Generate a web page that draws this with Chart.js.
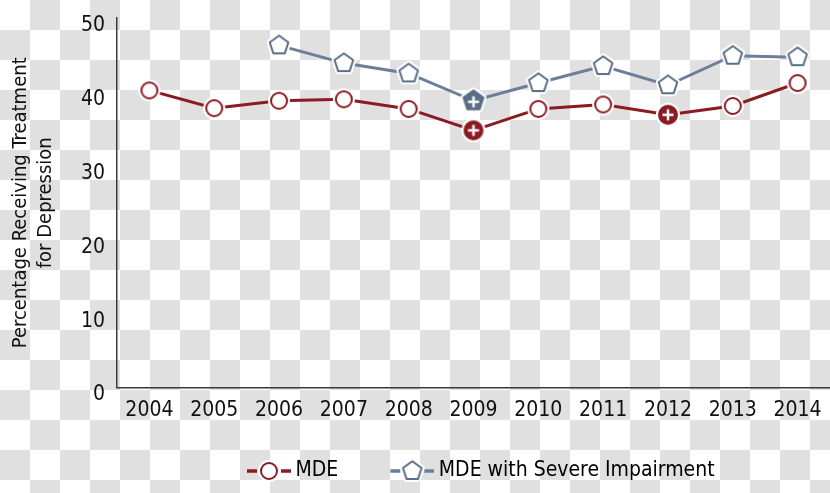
<!DOCTYPE html>
<html>
<head>
<meta charset="utf-8">
<script src="https://cdn.jsdelivr.net/npm/chart.js@4/dist/chart.umd.min.js"></script>
<style>
  html, body { margin: 0; padding: 0; }
  body {
    width: 830px; height: 493px; overflow: hidden;
    /* transparent-style checkerboard backdrop of the reference */
    background: repeating-conic-gradient(#e0e0e0 0 25%, #ffffff 0 50%) 0 0 / 60px 60px;
  }
  #wrap { position: relative; width: 830px; height: 493px; }
</style>
</head>
<body>
<div id="wrap"><canvas id="chart"></canvas></div>
<script>
// --- data ---
const years = ['2004', '2005', '2006', '2007', '2008', '2009', '2010', '2011', '2012', '2013', '2014'];
const mdeValues = [40.2, 37.8, 38.8, 39.0, 37.7, 34.8, 37.7, 38.3, 36.9, 38.1, 41.2];
const severeValues = [null, null, 46.3, 43.9, 42.5, 38.8, 41.2, 43.5, 40.9, 44.9, 44.7];
// years drawn with a filled marker and a "+"
const mdeSignificant = ['2009', '2012'];
const severeSignificant = ['2009'];
const yTicks = [0, 10, 20, 30, 40, 50];
const seriesNames = ['MDE', 'MDE with Severe Impairment'];
const yTitle = ['Percentage Receiving Treatment', 'for Depression'];

const RED = '#8b1b22';
const BLUE_LINE = '#6b7f99';
const BLUE_MARK = '#5b6e88';
const FONT = "'Liberation Sans Narrow', 'Arial Narrow', 'DejaVu Sans Condensed', sans-serif";
const FS = 21;

// --- marker images ---
function shapePath(ctx, shape, cx, cy, r) {
  ctx.beginPath();
  if (shape === 'circle') {
    ctx.arc(cx, cy, r, 0, Math.PI * 2);
  } else {
    for (let k = 0; k < 5; k++) {
      const a = -Math.PI / 2 + k * 2 * Math.PI / 5;
      const px = cx + r * Math.cos(a), py = cy + r * Math.sin(a);
      if (k === 0) ctx.moveTo(px, py); else ctx.lineTo(px, py);
    }
    ctx.closePath();
  }
}

function drawMarker(ctx, shape, color, filled, cx, cy) {
  const r = shape === 'circle' ? (filled ? 9 : 8) : (filled ? 10.5 : 9.8);
  ctx.lineJoin = 'round';
  // white halo
  shapePath(ctx, shape, cx, cy, r);
  ctx.strokeStyle = '#ffffff';
  ctx.lineWidth = 6;
  ctx.stroke();
  shapePath(ctx, shape, cx, cy, r);
  ctx.fillStyle = filled ? color : '#ffffff';
  ctx.fill();
  ctx.strokeStyle = color;
  ctx.lineWidth = 2;
  ctx.stroke();
  if (filled) {
    const oy = shape === 'circle' ? 0 : 1;
    ctx.strokeStyle = '#ffffff';
    ctx.lineWidth = 2.5;
    ctx.lineCap = 'butt';
    ctx.beginPath();
    ctx.moveTo(cx - 5.5, cy + oy); ctx.lineTo(cx + 5.5, cy + oy);
    ctx.moveTo(cx, cy + oy - 5.5); ctx.lineTo(cx, cy + oy + 5.5);
    ctx.stroke();
  }
}

function makeMarker(shape, color, filled) {
  const c = document.createElement('canvas');
  c.width = 30; c.height = 30;
  drawMarker(c.getContext('2d'), shape, color, filled, 15, 15);
  return c;
}

// legend swatch: "-o-" sitting at the right end of a wider blank image
const LEG_BOX = 80;
function makeLegendSwatch(shape, lineColor, markColor) {
  const c = document.createElement('canvas');
  c.width = LEG_BOX + 12; c.height = 26;
  const ctx = c.getContext('2d');
  const right = c.width, left = right - 44, cy = 13;
  ctx.strokeStyle = lineColor;
  ctx.lineWidth = 3.5;
  ctx.beginPath();
  ctx.moveTo(left, cy); ctx.lineTo(left + 10, cy);
  ctx.moveTo(right - 10, cy); ctx.lineTo(right, cy);
  ctx.stroke();
  drawMarker(ctx, shape, markColor, false, (left + right) / 2, cy);
  return c;
}

const circleOpen = makeMarker('circle', RED, false);
const circleFull = makeMarker('circle', RED, true);
const pentOpen = makeMarker('pentagon', BLUE_MARK, false);
const pentFull = makeMarker('pentagon', BLUE_MARK, true);
const legendSwatches = [
  makeLegendSwatch('circle', RED, RED),
  makeLegendSwatch('pentagon', BLUE_LINE, BLUE_MARK)
];

// place the legend under the plot area like the original (first item starts near x=205)
const legendShift = {
  id: 'legendShift',
  afterLayout(chart) {
    const lg = chart.legend;
    const pad = lg.options.labels.padding;
    lg.left = 2 * 205 - pad - lg.right + lg.lineWidths[0];
  }
};

const ctx = document.getElementById('chart').getContext('2d');
new Chart(ctx, {
  type: 'line',
  data: {
    labels: years,
    datasets: [{
      label: seriesNames[0],
      data: mdeValues,
      borderColor: RED,
      borderWidth: 3,
      pointRadius: 10,
      pointStyle: years.map(y => mdeSignificant.includes(y) ? circleFull : circleOpen),
      tension: 0
    }, {
      label: seriesNames[1],
      data: severeValues,
      borderColor: BLUE_LINE,
      borderWidth: 3,
      pointRadius: 10,
      pointStyle: years.map(y => severeSignificant.includes(y) ? pentFull : pentOpen),
      tension: 0
    }]
  },
  options: {
    responsive: true,
    maintainAspectRatio: false,
    animation: false,
    layout: { autoPadding: false, padding: { top: 18, right: 0, bottom: 1.5, left: 0 } },
    plugins: {
      tooltip: { enabled: false },
      legend: {
        position: 'bottom',
        labels: {
          usePointStyle: true,
          pointStyleWidth: LEG_BOX,
          padding: 10,
          color: '#111',
          font: { family: FONT, size: FS, lineHeight: 1.1 },
          generateLabels: chart => seriesNames.map((name, i) => ({
            text: name,
            pointStyle: legendSwatches[i],
            fillStyle: 'transparent',
            strokeStyle: 'transparent',
            lineWidth: 0,
            datasetIndex: i,
            hidden: false
          }))
        }
      }
    },
    scales: {
      x: {
        offset: true,
        grid: { display: false, drawTicks: false },
        border: { display: true, color: '#3a3a3a', width: 1.5 },
        ticks: { color: '#111', padding: 10, maxRotation: 0, font: { family: FONT, size: FS } },
        afterFit: s => {
          s.height = 63;
          s.paddingLeft = 0; s.paddingRight = 0;
        }
      },
      y: {
        min: 0,
        max: 50,
        afterBuildTicks: s => { s.ticks = yTicks.map(v => ({ value: v })); },
        grid: { display: false, drawTicks: false },
        border: { display: true, color: '#3a3a3a', width: 1.5 },
        ticks: { color: '#111', padding: 12, labelOffset: 7.5, font: { family: FONT, size: FS } },
        title: {
          display: true,
          text: yTitle,
          color: '#111',
          padding: { top: 8.5, bottom: 0 },
          font: { family: FONT, size: 20, lineHeight: 1.25 }
        },
        afterFit: s => {
          s.width = 117;
          s.paddingTop = 0; s.paddingBottom = 0;
        }
      }
    }
  },
  plugins: [legendShift]
});
</script>
</body>
</html>
